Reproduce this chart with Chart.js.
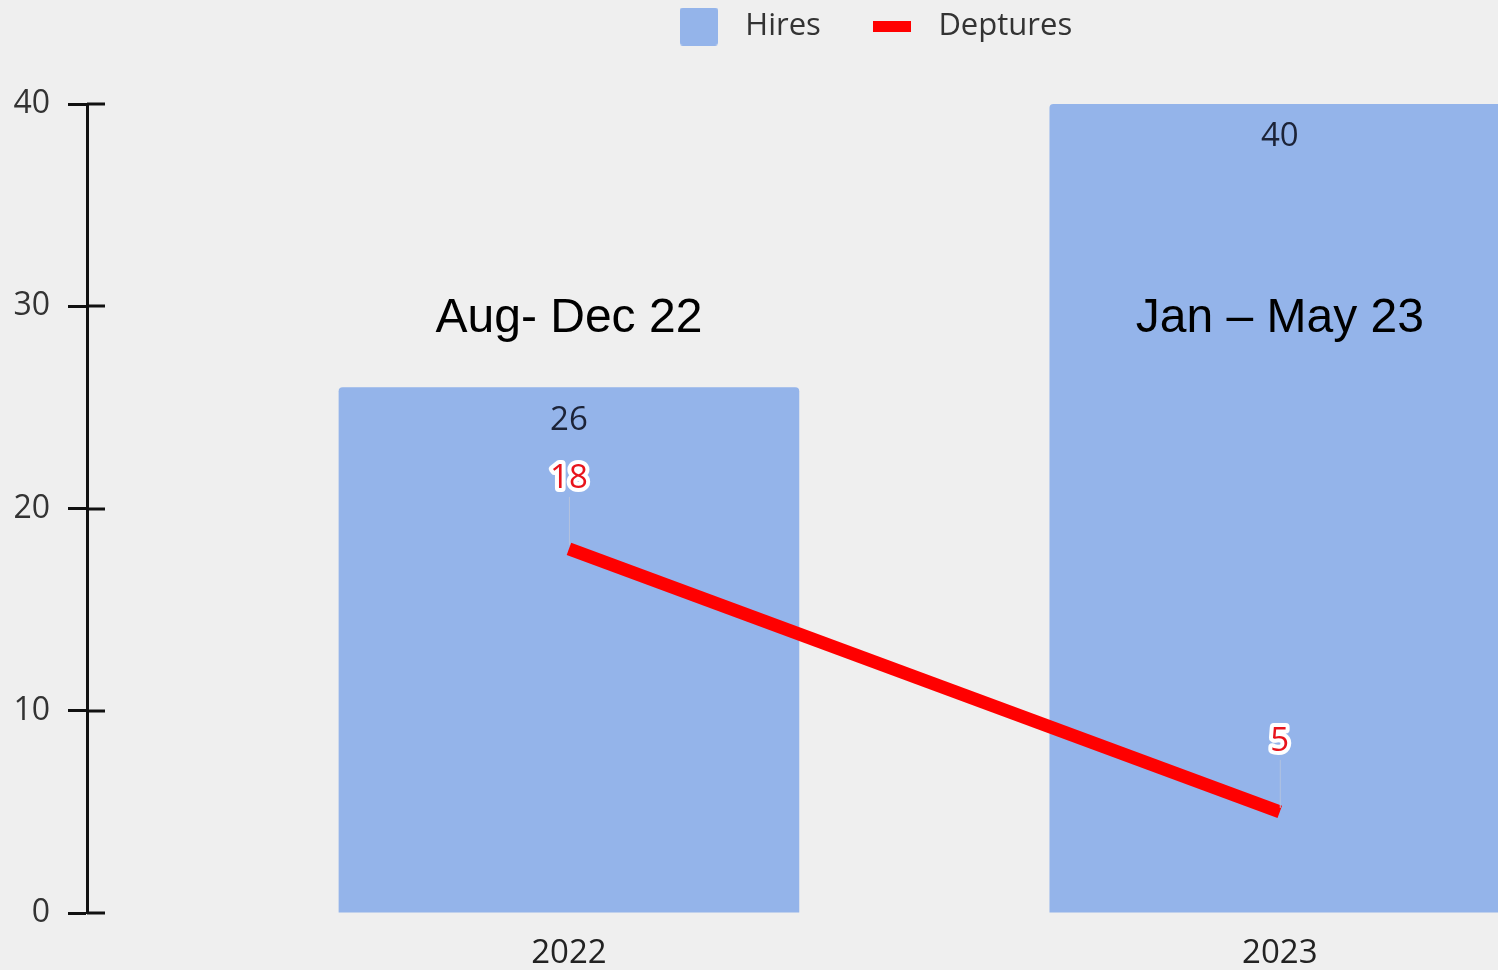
<!DOCTYPE html>
<html>
<head>
<meta charset="utf-8">
<script src="https://cdn.jsdelivr.net/npm/chart.js@4.4.1/dist/chart.umd.min.js"></script>
<style>
  html, body { margin: 0; padding: 0; background: #efefef; overflow: hidden; }
  #wrap { width: 1498px; height: 970px; position: relative; }
</style>
</head>
<body>
<div id="wrap"><canvas id="chart"></canvas></div>
<script>
// hires vs departures per period
const years = ['2022', '2023'];
const periods = ['Aug- Dec 22', 'Jan – May 23'];
const hires = [26, 40];
const departures = [18, 5];

const FONT = '"Open Sans", "Noto Sans", sans-serif';
const BAR_BLUE = '#94b4ea';
const LINE_RED = '#ff0000';

// small canvases used as legend markers
function makeIcon(w, h, color, radius) {
    const c = document.createElement('canvas');
    c.width = w;
    c.height = h;
    const g = c.getContext('2d');
    g.fillStyle = color;
    g.beginPath();
    if (g.roundRect) g.roundRect(0, 0, w, h, radius);
    else g.rect(0, 0, w, h);
    g.fill();
    return c;
}
const legendIcons = [makeIcon(38, 38, BAR_BLUE, 3), makeIcon(38, 11, LINE_RED, 0)];

// legend sits a bit right of centre and close to the top edge
const legendShift = {
    id: 'legendShift',
    afterLayout(chart) {
        const lg = chart.legend;
        if (!lg) return;
        lg.left += 121;
        lg.right += 121;
        lg.top -= 52;
        lg.bottom -= 52;
    }
};

// value labels, period captions and the right half of the y tick marks
const overlayPlugin = {
    id: 'overlay',
    afterDatasetsDraw(chart) {
        const ctx = chart.ctx;
        const x = chart.scales.x;
        const y = chart.scales.y;
        ctx.save();
        ctx.textAlign = 'center';
        ctx.textBaseline = 'middle';

        ctx.font = '48px "Liberation Sans", Arial, sans-serif';
        ctx.fillStyle = '#000';
        periods.forEach((p, i) => ctx.fillText(p, x.getPixelForValue(i), y.getPixelForValue(29.4)));

        ctx.font = '33px ' + FONT;
        ctx.fillStyle = '#1c2337';
        chart.getDatasetMeta(0).data.forEach((bar, i) => {
            ctx.fillText(String(hires[i]), bar.x, bar.y + 33);
        });

        chart.getDatasetMeta(1).data.forEach((pt, i) => {
            const ly = pt.y - 70;
            ctx.strokeStyle = '#b3c2df';
            ctx.lineWidth = 1;
            ctx.beginPath();
            ctx.moveTo(pt.x + 0.5, ly + 18);
            ctx.lineTo(pt.x + 0.5, pt.y - 4);
            ctx.stroke();

            const txt = String(departures[i]);
            ctx.lineJoin = 'round';
            ctx.lineWidth = 8;
            ctx.strokeStyle = '#ffffff';
            ctx.strokeText(txt, pt.x, ly);
            ctx.fillStyle = '#e8141c';
            ctx.fillText(txt, pt.x, ly);
        });

        ctx.strokeStyle = '#111';
        ctx.lineWidth = 3;
        y.ticks.forEach(t => {
            const py = Math.round(y.getPixelForValue(t.value));
            ctx.beginPath();
            ctx.moveTo(y.right, py);
            ctx.lineTo(y.right + 18, py);
            ctx.stroke();
        });
        ctx.restore();
    }
};

new Chart(document.getElementById('chart'), {
    type: 'bar',
    data: {
        datasets: [
            {
                label: 'Hires',
                data: hires.map((v, i) => ({ x: i, y: v })),
                backgroundColor: BAR_BLUE,
                borderRadius: 4,
                categoryPercentage: 1,
                barPercentage: 0.648,
                order: 1
            },
            {
                type: 'line',
                label: 'Deptures',
                data: departures.map((v, i) => ({ x: i, y: v })),
                borderColor: LINE_RED,
                borderWidth: 13,
                borderCapStyle: 'butt',
                pointRadius: 0,
                tension: 0,
                order: 0
            }
        ]
    },
    options: {
        responsive: true,
        maintainAspectRatio: false,
        animation: false,
        layout: { padding: { top: 23, left: 0, right: 0, bottom: 0 } },
        plugins: {
            tooltip: { enabled: false },
            legend: {
                position: 'top',
                labels: {
                    usePointStyle: true,
                    pointStyleWidth: 62,
                    padding: 40,
                    color: '#333',
                    font: { size: 31, family: FONT },
                    generateLabels: chart => chart.data.datasets.map((ds, i) => ({
                        text: ds.label,
                        pointStyle: legendIcons[i],
                        fillStyle: 'transparent',
                        strokeStyle: 'transparent',
                        lineWidth: 0,
                        fontColor: '#333',
                        hidden: false,
                        datasetIndex: i
                    }))
                }
            }
        },
        scales: {
            x: {
                type: 'linear',
                offset: false,
                min: -0.678,
                max: 1.307,
                afterBuildTicks: scale => { scale.ticks = years.map((_, i) => ({ value: i })); },
                afterFit: scale => { scale.height = 57; },
                grid: { display: false, drawTicks: false },
                border: { display: false },
                ticks: {
                    padding: 21,
                    color: '#222',
                    font: { size: 33, family: FONT },
                    callback: v => years[v]
                }
            },
            y: {
                min: 0,
                max: 40,
                afterFit: scale => { scale.width = 87; },
                grid: { drawOnChartArea: false, tickLength: 19, tickWidth: 3, tickColor: '#111' },
                border: { display: true, color: '#111', width: 3 },
                ticks: {
                    stepSize: 10,
                    padding: 18,
                    color: '#333',
                    font: { size: 32, family: FONT }
                }
            }
        }
    },
    plugins: [legendShift, overlayPlugin]
});
</script>
</body>
</html>
